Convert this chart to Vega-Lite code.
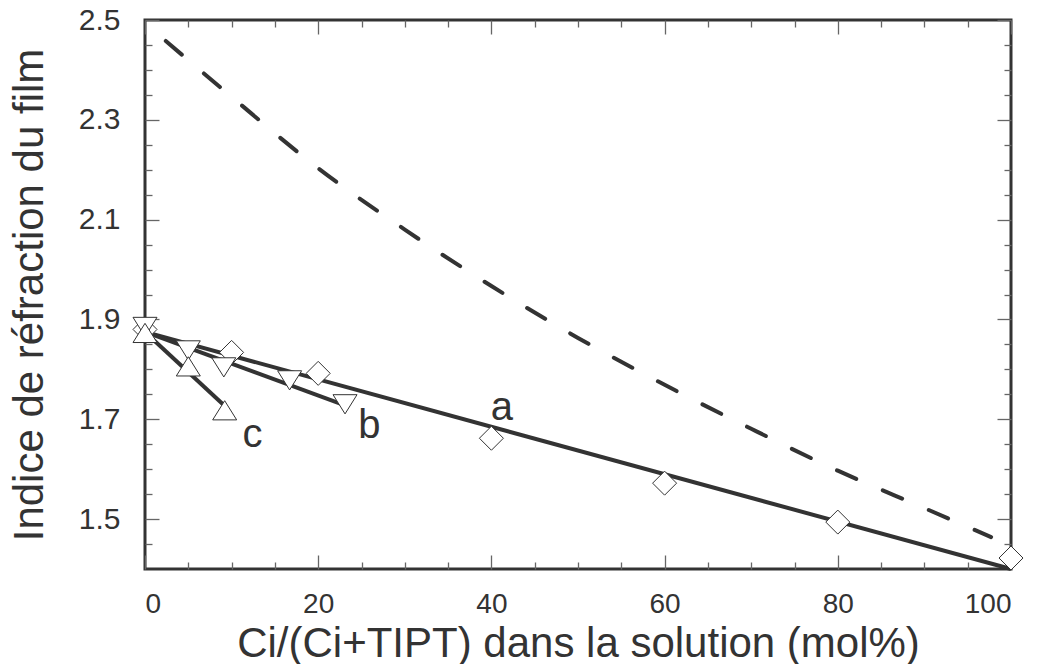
{
  "$schema": "https://vega.github.io/schema/vega-lite/v6.json",
  "width": 866,
  "height": 549,
  "autosize": {"type": "none"},
  "padding": {"left": 145, "top": 20, "right": 29, "bottom": 95},
  "background": "white",
  "config": {
    "font": "Liberation Sans",
    "view": {"stroke": "#333333", "strokeWidth": 3},
    "axis": {
      "domain": false,
      "grid": false,
      "ticks": true,
      "tickOpacity": 1,
      "tickColor": "#666666",
      "tickWidth": 1.3,
      "zindex": 1,
      "labelFontSize": 30,
      "labelColor": "#333333",
      "labelFont": "Liberation Sans",
      "titleFont": "Liberation Sans",
      "titleFontSize": 42,
      "titleFontWeight": "normal",
      "titleColor": "#333333"
    }
  },
  "datasets": {
    "dashed": [
      {"x": 2.4, "y": 2.458},
      {"x": 10, "y": 2.346},
      {"x": 20, "y": 2.203},
      {"x": 30, "y": 2.080},
      {"x": 40, "y": 1.967},
      {"x": 50, "y": 1.863},
      {"x": 60, "y": 1.769},
      {"x": 70, "y": 1.681},
      {"x": 80, "y": 1.597},
      {"x": 90, "y": 1.522},
      {"x": 97.7, "y": 1.464}
    ],
    "fit": [
      {"series": "a", "x": 0, "y": 1.875},
      {"series": "a", "x": 100, "y": 1.40},
      {"series": "b", "x": 0, "y": 1.875},
      {"series": "b", "x": 23.1, "y": 1.728},
      {"series": "c", "x": 0, "y": 1.875},
      {"series": "c", "x": 9.0, "y": 1.73}
    ],
    "points": [
      {"series": "a", "x": 0, "y": 1.88},
      {"series": "a", "x": 10, "y": 1.834},
      {"series": "a", "x": 20, "y": 1.792},
      {"series": "a", "x": 40, "y": 1.662},
      {"series": "a", "x": 60, "y": 1.572},
      {"series": "a", "x": 80, "y": 1.494},
      {"series": "a", "x": 100, "y": 1.422},
      {"series": "b", "x": 0, "y": 1.885},
      {"series": "b", "x": 5, "y": 1.838},
      {"series": "b", "x": 9.1, "y": 1.804},
      {"series": "b", "x": 16.7, "y": 1.778},
      {"series": "b", "x": 23.1, "y": 1.73},
      {"series": "c", "x": 0, "y": 1.873},
      {"series": "c", "x": 5, "y": 1.806},
      {"series": "c", "x": 9.2, "y": 1.718}
    ],
    "labels": [
      {"label": "a", "x": 41.2, "y": 1.698},
      {"label": "b", "x": 25.9, "y": 1.662},
      {"label": "c", "x": 12.4, "y": 1.644}
    ]
  },
  "layer": [
    {
      "data": {"name": "dashed"},
      "mark": {"type": "line", "color": "#333333", "strokeWidth": 4, "strokeDash": [21, 29], "strokeCap": "round", "interpolate": "monotone"},
      "encoding": {
        "x": {
          "field": "x", "type": "quantitative",
          "scale": {"domain": [0, 100], "nice": false, "zero": false},
          "axis": {
            "orient": "bottom",
            "title": "Ci/(Ci+TIPT) dans la solution (mol%)",
            "values": [0, 20, 40, 60, 80, 100],
            "offset": -14,
            "tickSize": 14,
            "labelFontSize": 28,
            "labelPadding": 21,
            "titlePadding": 5
          }
        },
        "y": {
          "field": "y", "type": "quantitative",
          "scale": {"domain": [1.4, 2.5], "nice": false, "zero": false},
          "axis": {
            "orient": "left",
            "title": "Indice de réfraction du film",
            "values": [1.5, 1.7, 1.9, 2.1, 2.3, 2.5],
            "format": ".1f",
            "offset": -14,
            "tickSize": 14,
            "labelPadding": 25,
            "titlePadding": 27
          }
        }
      }
    },
    {
      "data": {"name": "fit"},
      "mark": {"type": "line", "color": "#333333", "strokeWidth": 4},
      "encoding": {
        "x": {
          "field": "x", "type": "quantitative",
          "axis": {
            "orient": "bottom",
            "title": null,
            "labels": false,
            "values": [5, 10, 15, 25, 30, 35, 45, 50, 55, 65, 70, 75, 85, 90, 95],
            "offset": -7,
            "tickSize": 7
          }
        },
        "y": {
          "field": "y", "type": "quantitative",
          "axis": {
            "orient": "left",
            "title": null,
            "labels": false,
            "values": [1.45, 1.55, 1.6, 1.65, 1.75, 1.8, 1.85, 1.95, 2.0, 2.05, 2.15, 2.2, 2.25, 2.35, 2.4, 2.45],
            "offset": -7,
            "tickSize": 7
          }
        },
        "detail": {"field": "series"}
      }
    },
    {
      "data": {"name": "points"},
      "mark": {"type": "point", "filled": true, "fill": "white", "fillOpacity": 1, "stroke": "#333333", "strokeWidth": 1, "opacity": 1, "size": 576},
      "encoding": {
        "x": {
          "field": "x", "type": "quantitative",
          "axis": {
            "orient": "top",
            "title": null,
            "labels": false,
            "values": [0, 20, 40, 60, 80, 100],
            "offset": -14,
            "tickSize": 14
          }
        },
        "y": {
          "field": "y", "type": "quantitative",
          "axis": {
            "orient": "right",
            "title": null,
            "labels": false,
            "values": [1.5, 1.7, 1.9, 2.1, 2.3, 2.5],
            "offset": -14,
            "tickSize": 14
          }
        },
        "shape": {
          "field": "series", "type": "nominal",
          "scale": {"domain": ["a", "b", "c"], "range": ["diamond", "M0,0.8L1,-0.8L-1,-0.8Z", "M0,-0.8L1,0.8L-1,0.8Z"]},
          "legend": null
        }
      }
    },
    {
      "data": {"name": "labels"},
      "mark": {"type": "text", "fontSize": 40, "color": "#333333", "align": "center", "baseline": "alphabetic", "font": "Liberation Sans"},
      "encoding": {
        "x": {
          "field": "x", "type": "quantitative",
          "axis": {
            "orient": "top",
            "title": null,
            "labels": false,
            "values": [5, 10, 15, 25, 30, 35, 45, 50, 55, 65, 70, 75, 85, 90, 95],
            "offset": -7,
            "tickSize": 7
          }
        },
        "y": {
          "field": "y", "type": "quantitative",
          "axis": {
            "orient": "right",
            "title": null,
            "labels": false,
            "values": [1.45, 1.55, 1.6, 1.65, 1.75, 1.8, 1.85, 1.95, 2.0, 2.05, 2.15, 2.2, 2.25, 2.35, 2.4, 2.45],
            "offset": -7,
            "tickSize": 7
          }
        },
        "text": {"field": "label"}
      }
    }
  ],
  "resolve": {"axis": {"x": "independent", "y": "independent"}}
}
